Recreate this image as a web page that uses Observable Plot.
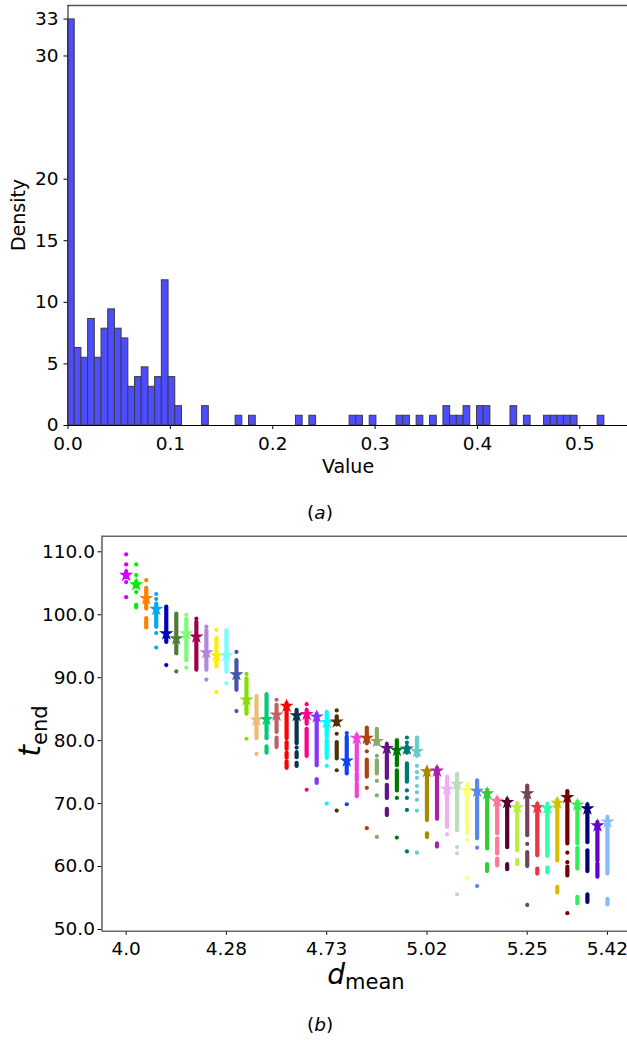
<!DOCTYPE html>
<html>
<head>
<meta charset="utf-8">
<script src="https://cdn.jsdelivr.net/npm/d3@7"></script>
<script src="https://cdn.jsdelivr.net/npm/@observablehq/plot@0.6"></script>
<style>
  body { margin: 0; background: #fff; font-family: "DejaVu Sans", sans-serif; }
  #fig { position: relative; width: 627px; height: 1040px; overflow: hidden; background: #fff; }
  .abs { position: absolute; white-space: nowrap; color: #000; line-height: 1; }
  .center { transform: translate(-50%, -50%); }
  .vert { transform: translate(-50%, -50%) rotate(-90deg); }
  svg { position: absolute; left: 0; overflow: visible; }
</style>
</head>
<body>
<div id="fig"></div>
<script>
// ---------- Panel (a): histogram, 80 equal-width bins ----------
const binWidth = 0.00655;
const density = [
  32.97, 6.29, 5.50, 8.65, 5.50, 7.86, 9.43, 7.86, 7.07, 3.14,
  3.93, 4.72, 3.14, 3.93, 11.79, 3.93, 1.57, 0, 0, 0,
  1.57, 0, 0, 0, 0, 0.79, 0, 0.79, 0, 0,
  0, 0, 0, 0, 0.79, 0, 0.79, 0, 0, 0,
  0, 0, 0.79, 0.79, 0, 0.79, 0, 0, 0, 0.79,
  0.79, 0, 0.79, 0, 0.79, 0, 1.57, 0.79, 0.79, 1.57,
  0, 1.57, 1.57, 0, 0, 0, 1.57, 0, 0.79, 0,
  0, 0.79, 0.79, 0.79, 0.79, 0.79, 0, 0, 0, 0.79
];
const histYTicks = [0, 5, 10, 15, 20, 30, 33];
const histXTicks = [0, 0.1, 0.2, 0.3, 0.4, 0.5];

// ---------- Panel (b): t_end spread for each d_mean group ----------
const dMeanLabels = ["4.0", "4.28", "4.73", "5.02", "5.25", "5.42"];
const dMeanTickIndex = [0, 10, 20, 30, 40, 48];
const tEndTicks = [50, 60, 70, 80, 90, 100, 110];

const groupColors = [
  "#cc00ff", "#00ee00", "#ff8000", "#00aaee", "#0000bb", "#507b38", "#77ff77", "#a0004a",
  "#b088d8", "#ffee00", "#77ffff", "#4455aa", "#88dd00", "#eebb77", "#00cc77", "#c06060",
  "#ff0000", "#0a3350", "#ff0088", "#8833ff", "#00ffff", "#4d3300", "#1144ee", "#ee44dd",
  "#b04010", "#88aa66", "#661188", "#007700", "#007777", "#66cccc", "#aa8800", "#aa22aa",
  "#f0b0f0", "#bbddbb", "#ffff77", "#5588ee", "#33cc33", "#ff7799", "#550033", "#bbee44",
  "#774455", "#ee3344", "#33ffaa", "#ddbb00", "#770000", "#33ee55", "#000077", "#6600cc",
  "#88bbff"
];

// star marker: central value of each group
const groupStars = [
  106.3, 104.8, 102.6, 100.9, 97.0, 96.2, 97.0, 96.5, 94.0, 93.5, 93.5, 90.5,
  86.5, 83.3, 83.4, 84.1, 85.5, 84.0, 84.2, 83.8, 82.9, 83.0, 76.8, 80.4,
  80.4, 79.9, 78.8, 78.5, 78.7, 78.3, 75.1, 75.2, 72.3, 73.1, 72.1, 72.0,
  71.6, 70.4, 70.2, 69.4, 71.6, 69.4, 69.3, 70.1, 71.0, 69.8, 69.2, 66.5,
  67.1
];

// observed t_end values per group, as [low, high] stretches of stacked points
// (low === high is a single point)
const groupRuns = [
  [[109.6, 109.6], [108.0, 108.0], [105.9, 106.8], [105.2, 105.2], [102.8, 102.8]],
  [[108.0, 108.0], [106.3, 106.3], [104.4, 105.2], [103.6, 103.6], [101.1, 101.5]],
  [[105.5, 105.5], [100.9, 104.2], [97.9, 99.4]],
  [[103.3, 103.3], [102.5, 102.5], [98.0, 101.7], [97.1, 97.1], [94.8, 94.8]],
  [[95.6, 101.2], [92.0, 92.0]],
  [[93.8, 100.1], [91.0, 91.0]],
  [[100.0, 100.0], [92.7, 99.3], [91.6, 91.6]],
  [[99.4, 99.4], [91.2, 98.8]],
  [[98.1, 98.1], [91.2, 97.5], [89.7, 89.7]],
  [[97.6, 97.6], [91.7, 96.2], [87.7, 87.7]],
  [[90.9, 97.5], [89.1, 89.1]],
  [[94.1, 94.1], [88.0, 92.7], [84.7, 84.7]],
  [[90.6, 90.6], [84.2, 89.8], [80.3, 80.3]],
  [[80.3, 87.0], [77.9, 77.9]],
  [[81.3, 87.3], [80.3, 80.9], [78.0, 79.0]],
  [[86.5, 86.5], [81.3, 85.6], [78.9, 80.4]],
  [[80.3, 85.9], [78.6, 79.7], [77.2, 78.0], [75.6, 76.6]],
  [[79.5, 84.8], [78.9, 78.9], [77.3, 78.1], [75.9, 76.4]],
  [[85.8, 85.8], [82.6, 84.8], [77.5, 81.8], [72.2, 72.2]],
  [[76.0, 84.2], [73.2, 73.8]],
  [[80.5, 84.5], [77.2, 80.0], [76.0, 76.0], [70.0, 70.0]],
  [[84.8, 84.8], [82.5, 83.8], [81.1, 81.1], [77.1, 79.7], [75.3, 75.3], [68.9, 68.9]],
  [[81.2, 81.2], [74.7, 80.6], [69.9, 69.9]],
  [[75.2, 80.8], [73.6, 74.8], [71.1, 73.1]],
  [[79.5, 82.0], [78.3, 78.3], [74.2, 76.9], [72.5, 72.5], [66.1, 66.1]],
  [[79.4, 81.8], [77.6, 77.6], [74.7, 76.8], [73.6, 73.6], [71.3, 71.3], [64.7, 64.7]],
  [[74.0, 79.4], [70.8, 72.9], [68.1, 69.1]],
  [[76.0, 80.0], [72.0, 75.2], [70.9, 70.9], [64.6, 64.6]],
  [[80.5, 80.5], [79.7, 79.7], [78.0, 79.0], [73.4, 76.3], [72.1, 72.1], [70.9, 70.9], [69.0, 69.0], [62.4, 62.4]],
  [[77.5, 80.4], [76.0, 76.0], [75.0, 75.0], [74.1, 74.1], [72.8, 72.8], [71.8, 71.8], [70.6, 70.6], [68.9, 68.9], [62.2, 62.2]],
  [[67.3, 75.4], [64.6, 65.2]],
  [[67.5, 75.6], [63.1, 63.6]],
  [[66.2, 74.2], [65.1, 65.1]],
  [[65.7, 74.7], [63.1, 63.1], [62.1, 62.1], [55.6, 55.6]],
  [[65.2, 73.1], [64.2, 64.2], [58.2, 58.2]],
  [[64.4, 73.6], [63.0, 63.0], [56.9, 56.9]],
  [[62.8, 72.1], [59.2, 60.3]],
  [[65.2, 70.8], [62.0, 64.4], [60.1, 61.2]],
  [[63.0, 70.6], [59.5, 60.3]],
  [[62.5, 70.0], [60.3, 61.0]],
  [[64.9, 72.8], [63.6, 63.6], [60.0, 62.2], [53.9, 53.9]],
  [[61.7, 69.9], [58.8, 59.6]],
  [[61.6, 69.9], [59.0, 59.8]],
  [[60.9, 70.5], [55.8, 56.7]],
  [[63.6, 71.9], [62.2, 62.2], [60.7, 60.7], [58.5, 59.9], [52.6, 52.6]],
  [[63.6, 70.2], [59.6, 62.9], [54.1, 55.1]],
  [[63.8, 69.8], [59.2, 62.5], [54.3, 55.5]],
  [[60.9, 67.0], [58.3, 60.4]],
  [[58.8, 67.8], [53.9, 54.8]]
];

const fig = document.getElementById("fig");
const FONT = "DejaVu Sans";

function addText(html, left, top, cls, size, extra) {
  const el = document.createElement("div");
  el.className = "abs " + cls;
  el.style.left = left + "px";
  el.style.top = top + "px";
  el.style.fontSize = size + "px";
  if (extra) Object.assign(el.style, extra);
  el.innerHTML = html;
  fig.appendChild(el);
  return el;
}

// ---- (a) histogram ----
const bins = density
  .map((d, i) => ({x1: i * binWidth, x2: (i + 1) * binWidth, d}))
  .filter(b => b.d > 0);

const yTopA = 34.1, xRightA = 0.5466;
const hist = Plot.plot({
  width: 627, height: 480,
  marginLeft: 67.5, marginRight: 0, marginTop: 5, marginBottom: 55,
  style: {fontFamily: FONT, fontSize: "18.5px", color: "#000", background: "transparent"},
  x: {domain: [0, xRightA], ticks: histXTicks, tickFormat: d3.format(".1f"), tickSize: 4, tickPadding: 7, label: null},
  y: {domain: [0, yTopA], ticks: histYTicks, tickFormat: d => String(d), tickSize: 4, tickPadding: 5.5, label: null},
  marks: [
    Plot.rect(bins, {x1: "x1", x2: "x2", y1: 0, y2: "d", fill: "#4d4dff", stroke: "#3c3c3c", strokeWidth: 1}),
    Plot.ruleY([yTopA], {stroke: "#555", strokeWidth: 1.5}),
    Plot.ruleX([0], {stroke: "#333", strokeWidth: 1.2}),
    Plot.ruleY([0], {stroke: "#000", strokeWidth: 1.2})
  ]
});
hist.style.top = "0px";
fig.appendChild(hist);

addText("Density", 18, 215, "vert", 19);
addText("Value", 348, 466, "center", 19);
addText("(<i>a</i>)", 320, 513, "center", 18.5);

// ---- (b) grouped scatter ----
const runs = [], points = [];
groupRuns.forEach((segs, i) => segs.forEach(([lo, hi]) => {
  (lo === hi ? points : runs).push({i, lo, hi, c: groupColors[i]});
}));
const stars = groupStars.map((v, i) => ({i, v, c: groupColors[i]}));

const yLo = 49.73, yHi = 112.48;
const scatter = Plot.plot({
  width: 627, height: 480,
  marginLeft: 101.5, marginRight: 0, marginTop: 7.7, marginBottom: 77.3,
  style: {fontFamily: FONT, fontSize: "18.5px", color: "#000", background: "transparent"},
  color: {type: "identity"},
  x: {domain: [-2.41, 50], ticks: dMeanTickIndex, tickFormat: i => dMeanLabels[dMeanTickIndex.indexOf(i)], tickSize: 4, tickPadding: 6.5, label: null, fontSize: 18},
  y: {domain: [yLo, yHi], ticks: tEndTicks, tickFormat: d3.format(".1f"), tickSize: 4, tickPadding: 3, label: null},
  marks: [
    Plot.ruleX(runs, {x: "i", y1: "lo", y2: "hi", stroke: "c", strokeWidth: 4.2, strokeLinecap: "round"}),
    Plot.dot(points, {x: "i", y: "lo", r: 2.1, fill: "c"}),
    Plot.dot(stars, {x: "i", y: "v", symbol: "star", r: 3.3, fill: "c", stroke: "c", strokeWidth: 1.2}),
    Plot.ruleY([yHi], {stroke: "#666", strokeWidth: 1.6}),
    Plot.ruleX([-2.41], {stroke: "#666", strokeWidth: 1.6}),
    Plot.ruleY([yLo], {stroke: "#666", strokeWidth: 1.6})
  ]
});
scatter.style.top = "528px";
fig.appendChild(scatter);

addText('<i style="font-size:30px">t</i><span style="font-size:21px;position:relative;top:7px">end</span>', 30, 731, "vert", 30);
addText('<i style="font-size:28px">d</i><span style="font-size:21px;position:relative;top:5px">mean</span>', 366, 975, "center", 28);
addText("(<i>b</i>)", 320, 1025, "center", 18.5);
</script>
</body>
</html>
